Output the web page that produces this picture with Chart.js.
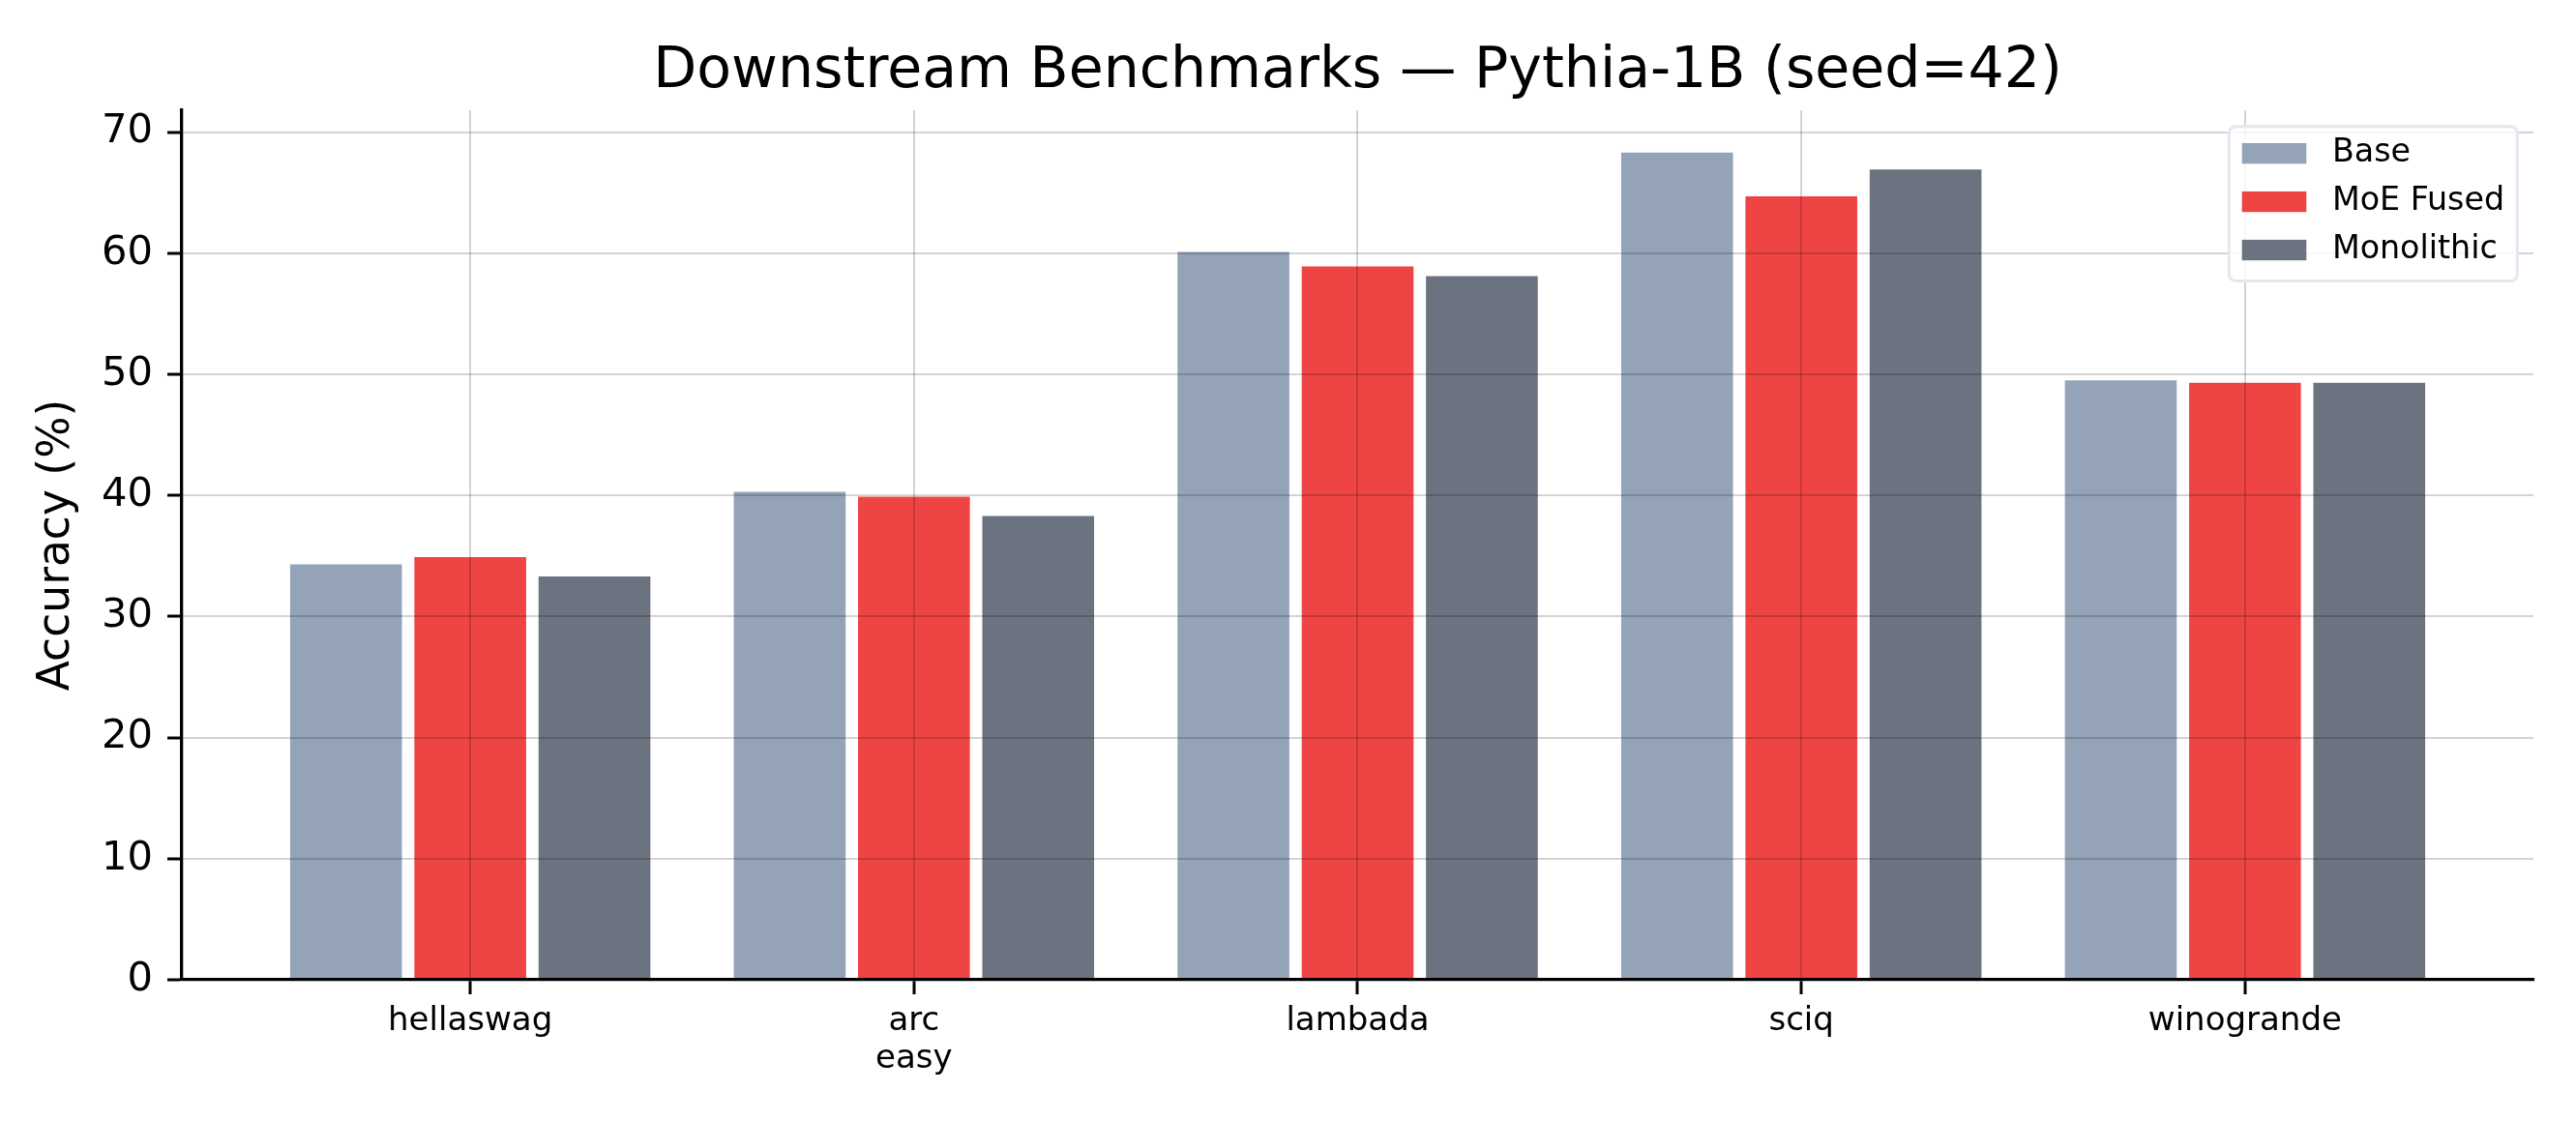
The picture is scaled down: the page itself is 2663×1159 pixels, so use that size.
<!DOCTYPE html>
<html>
<head>
<meta charset="utf-8">
<title>Downstream Benchmarks — Pythia-1B (seed=42)</title>
<script src="https://cdn.jsdelivr.net/npm/chart.js@4.4.1/dist/chart.umd.min.js"></script>
<style>
  html, body { margin: 0; padding: 0; background: #fff; }
  #wrap { width: 2663px; height: 1159px; position: relative; }
</style>
</head>
<body>
<div id="wrap"><canvas id="benchChart"></canvas></div>
<script>
var categories = ['hellaswag', 'arc\neasy', 'lambada', 'sciq', 'winogrande'];
var seriesNames = ['Base', 'MoE Fused', 'Monolithic'];
var baseAcc = [34.3, 40.3, 60.1, 68.3, 49.5];
var moeFusedAcc = [34.9, 39.9, 58.9, 64.7, 49.3];
var monolithicAcc = [33.3, 38.3, 58.1, 66.9, 49.3];
var yTicks = [0, 10, 20, 30, 40, 50, 60, 70];
var seriesColors = ['#94a3b8', '#ef4444', '#6b7280'];
var chartTitle = 'Downstream Benchmarks — Pythia-1B (seed=42)';
var yAxisLabel = 'Accuracy (%)';

var FONT = '"DejaVu Sans", "Liberation Sans", sans-serif';
Chart.defaults.font.family = FONT;
Chart.defaults.color = '#000';

// bars sit on a linear x so the side margins can match matplotlib's (-0.65 .. 4.65)
function toPoints(values) {
  return values.map(function(v, i) { return {x: i, y: v}; });
}

function makeDataset(idx, values) {
  return {
    label: seriesNames[idx],
    data: toPoints(values),
    backgroundColor: seriesColors[idx],
    borderWidth: 0,
    barPercentage: 0.9,
    categoryPercentage: 0.84
  };
}

// title centred over the plot area, not the whole canvas
var plotTitle = {
  id: 'plotTitle',
  afterDraw: function(chart) {
    var ctx = chart.ctx, area = chart.chartArea;
    ctx.save();
    ctx.font = '58.5px ' + FONT;
    ctx.fillStyle = '#000';
    ctx.textAlign = 'center';
    ctx.textBaseline = 'alphabetic';
    ctx.fillText(chartTitle, (area.left + area.right) / 2, area.top - 24);
    ctx.restore();
  }
};

// legend box in the upper right corner, inside the axes
var insideLegend = {
  id: 'insideLegend',
  afterDraw: function(chart) {
    var ctx = chart.ctx, area = chart.chartArea;
    var fs = 33.3, pad = 0.4 * fs, handleLen = 2 * fs, handleGap = 0.8 * fs;
    var rowGap = 0.5 * fs, axesPad = 0.5 * fs;
    var sets = chart.data.datasets;
    ctx.save();
    ctx.font = fs + 'px ' + FONT;
    var textW = 0;
    sets.forEach(function(ds) { textW = Math.max(textW, ctx.measureText(ds.label).width); });
    var w = pad * 2 + handleLen + handleGap + textW;
    var h = pad * 2 + sets.length * fs + (sets.length - 1) * rowGap;
    var x = area.right - axesPad - w, y = area.top + axesPad;

    ctx.beginPath();
    ctx.roundRect(x, y, w, h, 7);
    ctx.fillStyle = 'rgba(255,255,255,0.8)';
    ctx.fill();
    ctx.lineWidth = 3;
    ctx.strokeStyle = '#e2e8f0';
    ctx.stroke();

    ctx.textBaseline = 'middle';
    ctx.textAlign = 'left';
    sets.forEach(function(ds, i) {
      var cy = y + pad + fs / 2 + i * (fs + rowGap) - 2;
      ctx.fillStyle = ds.backgroundColor;
      ctx.fillRect(x + pad, cy - 0.32 * fs, handleLen, 0.64 * fs);
      ctx.fillStyle = '#000';
      ctx.fillText(ds.label, x + pad + handleLen + handleGap, cy);
    });
    ctx.restore();
  }
};

var ctx = document.getElementById('benchChart').getContext('2d');
var benchChart = new Chart(ctx, {
  type: 'bar',
  data: {
    datasets: [
      makeDataset(0, baseAcc),
      makeDataset(1, moeFusedAcc),
      makeDataset(2, monolithicAcc)
    ]
  },
  options: {
    responsive: true,
    maintainAspectRatio: false,
    devicePixelRatio: 1,
    animation: false,
    layout: { padding: { top: 114, right: 44, left: 0, bottom: 0 } },
    plugins: {
      legend: { display: false },
      tooltip: { enabled: false },
      title: { display: false }
    },
    scales: {
      x: {
        type: 'linear',
        min: -0.65,
        max: 4.65,
        offset: false,
        z: 1,
        afterBuildTicks: function(scale) {
          scale.ticks = categories.map(function(c, i) { return {value: i}; });
        },
        afterFit: function(scale) { scale.height = 146; },
        ticks: {
          autoSkip: false,
          maxRotation: 0,
          padding: 9,
          font: { size: 34, lineHeight: 1.15 },
          callback: function(value) {
            var lbl = categories[value];
            return lbl === undefined ? '' : lbl.split('\n');
          }
        },
        grid: {
          offset: false,
          z: 1,
          color: 'rgba(0,0,0,0.17)',
          lineWidth: 2,
          tickColor: '#000',
          tickWidth: 3,
          tickLength: 15
        },
        border: { display: true, color: '#000', width: 3.3, z: 2 }
      },
      y: {
        min: 0,
        max: 71.8,
        z: 1,
        afterBuildTicks: function(scale) {
          scale.ticks = yTicks.map(function(v) { return {value: v}; });
        },
        afterFit: function(scale) { scale.width = 188; },
        ticks: {
          padding: 15,
          font: { size: 41.7 }
        },
        grid: {
          z: 1,
          color: 'rgba(0,0,0,0.17)',
          lineWidth: 2,
          tickColor: '#000',
          tickWidth: 3,
          tickLength: 15
        },
        border: { display: true, color: '#000', width: 3.3, z: 2 },
        title: {
          display: true,
          text: yAxisLabel,
          font: { size: 45.6, lineHeight: 1.2 },
          padding: { top: 32, bottom: 0 }
        }
      }
    }
  },
  plugins: [plotTitle, insideLegend]
});
</script>
</body>
</html>
